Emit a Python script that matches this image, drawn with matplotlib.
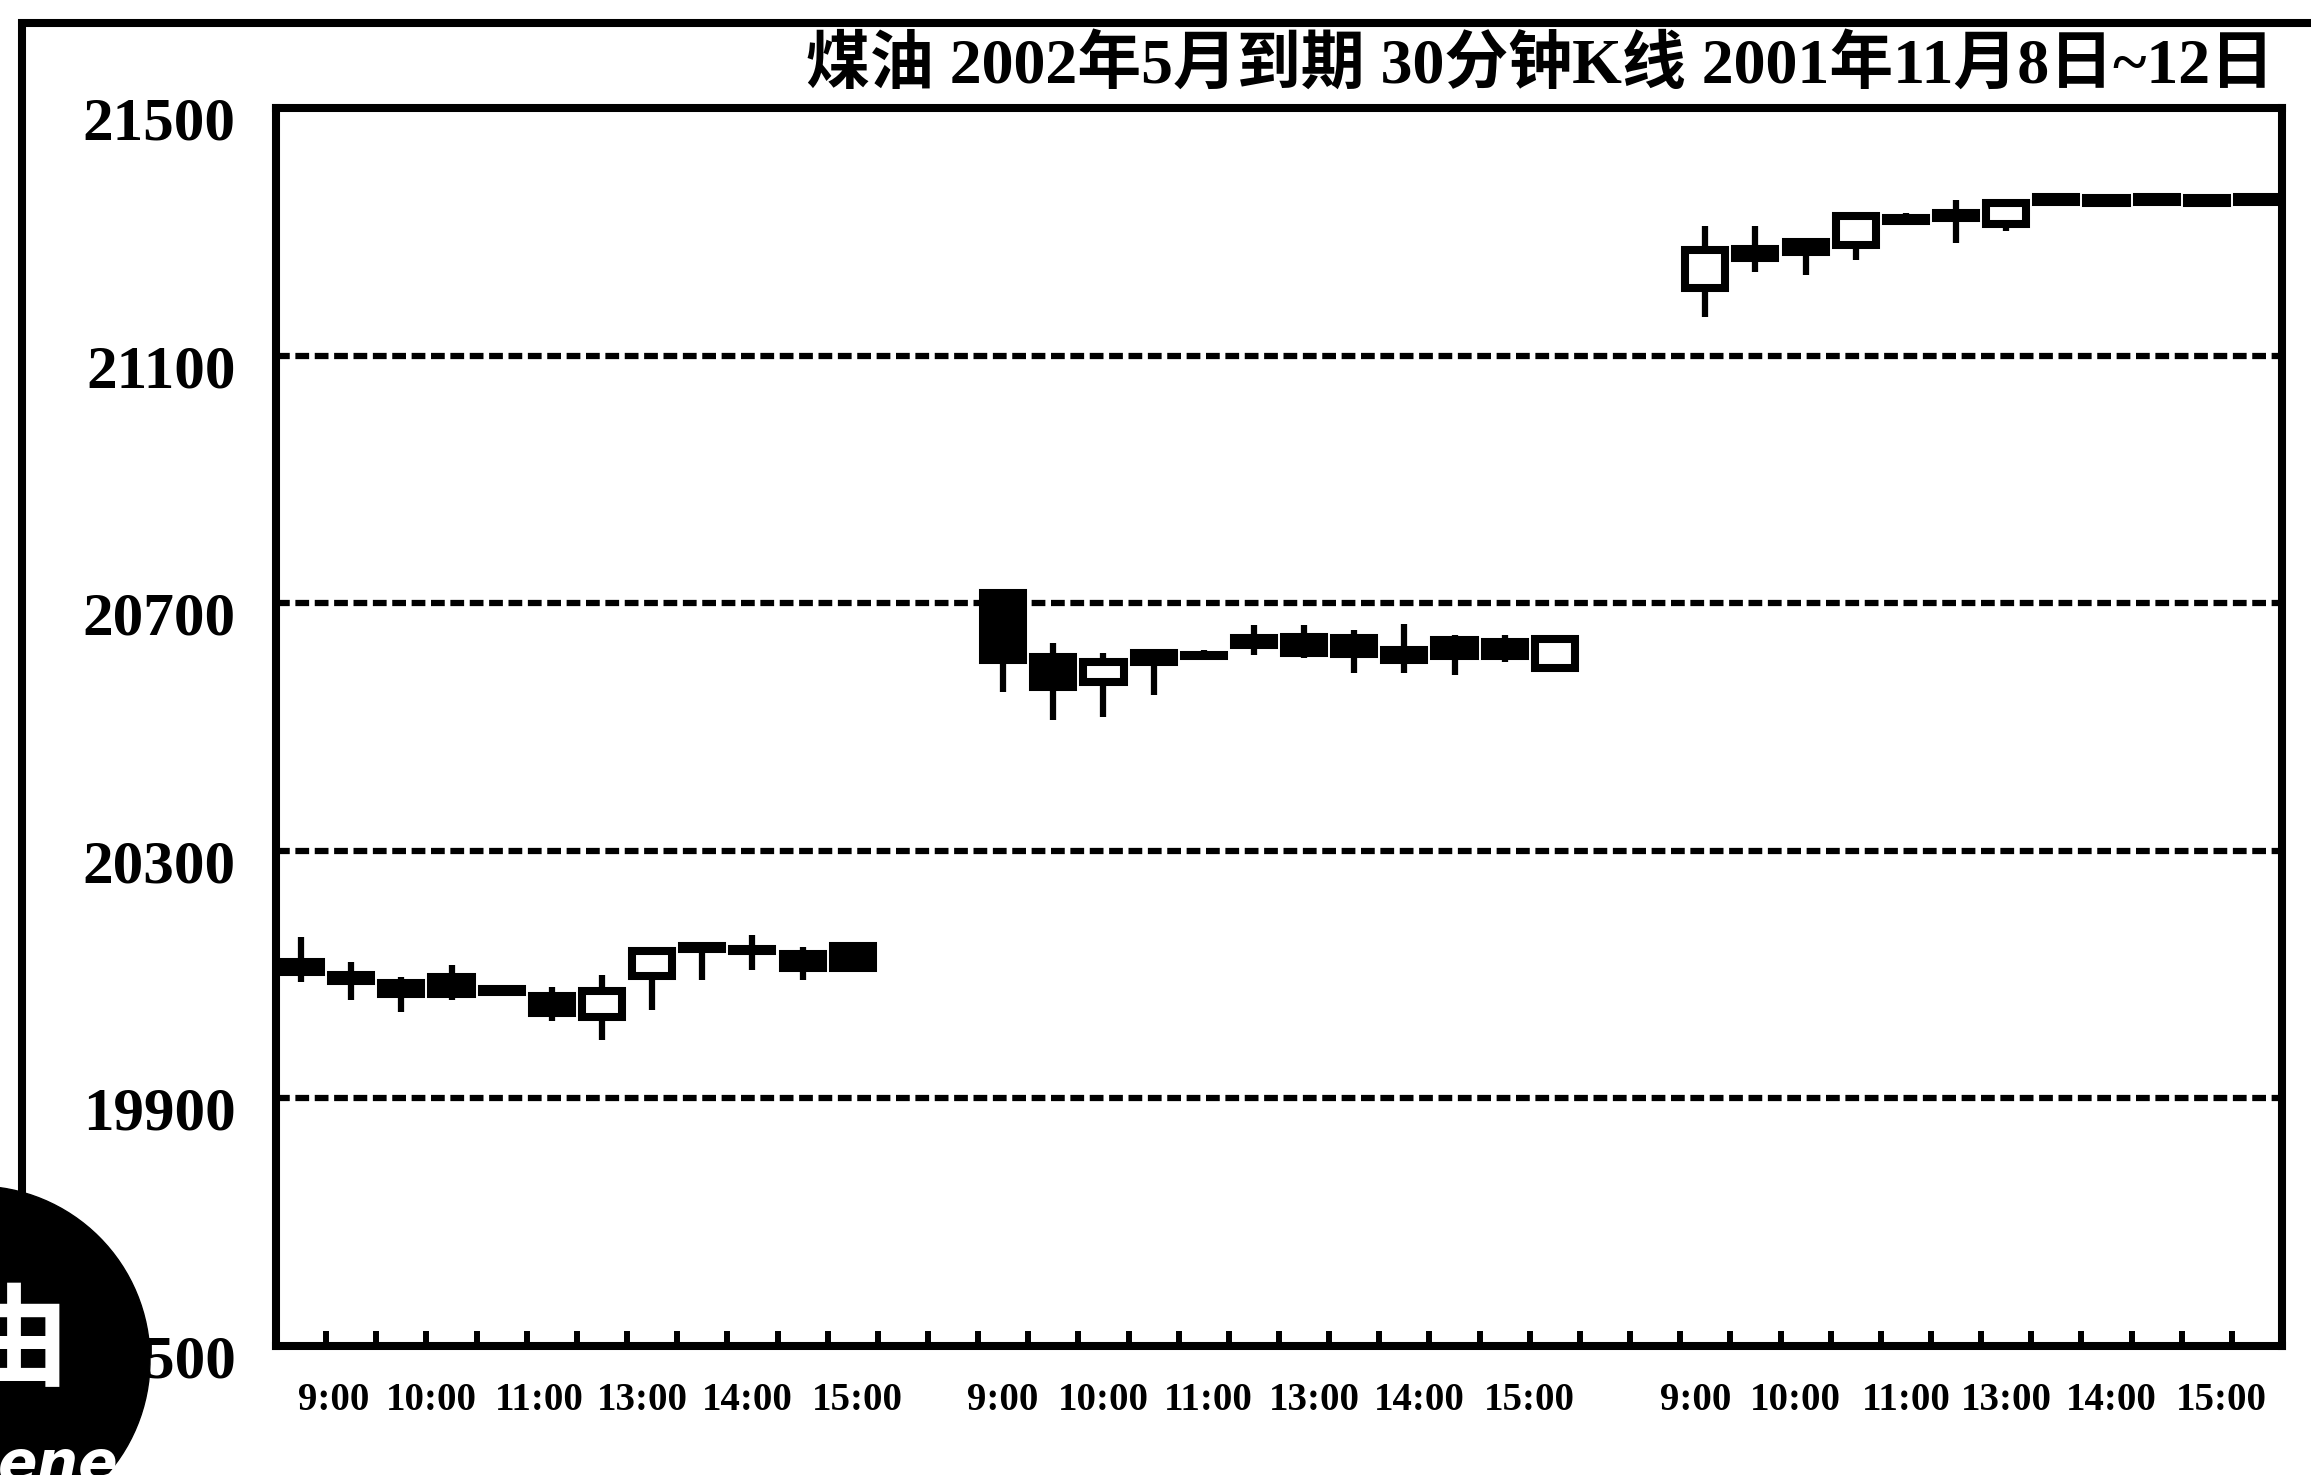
import matplotlib
matplotlib.use('Agg')

import matplotlib.pyplot as plt
from matplotlib.patches import Circle, Rectangle
from matplotlib.transforms import ScaledTranslation

# ─── Data: 30-minute kerosene bars, Nov 8 / Nov 9 / Nov 12 2001 ───────────────
TITLE = '煤油 2002年5月到期 30分钟K线 2001年11月8日~12日'

day_start = [0, 14, 28]          # first slot of each trading day
bars_per_day = 12

opens = [
    # 11/8
    20120, 20100, 20086, 20096, 20076, 20066, 20031, 20097, 20146, 20142, 20133, 20146,
    # 11/9
    20716, 20613, 20572, 20620, 20617, 20644, 20645, 20644, 20624, 20640, 20638, 20595,
    # 11/12
    21209, 21272, 21284, 21278, 21322, 21331, 21313, 21356, 21355, 21356, 21355, 21356,
]
highs = [
    20160, 20120, 20096, 20115, 20082, 20080, 20099, 20140, 20151, 20164, 20144, 20148,
    20722, 20635, 20619, 20624, 20624, 20664, 20664, 20656, 20667, 20648, 20648, 20645,
    21310, 21310, 21289, 21328, 21331, 21352, 21350, 21358, 21358, 21358, 21358, 21358,
]
lows = [
    20088, 20059, 20039, 20059, 20068, 20025, 19994, 20043, 20091, 20107, 20091, 20105,
    20556, 20511, 20516, 20551, 20608, 20616, 20611, 20587, 20587, 20584, 20605, 20593,
    21162, 21235, 21230, 21254, 21312, 21282, 21302, 21345, 21345, 21345, 21345, 21345,
]
closes = [
    20104, 20090, 20068, 20068, 20072, 20038, 20073, 20138, 20142, 20138, 20110, 20110,
    20608, 20564, 20605, 20605, 20614, 20632, 20620, 20618, 20608, 20614, 20614, 20642,
    21271, 21257, 21268, 21326, 21318, 21323, 21346, 21348, 21347, 21348, 21347, 21348,
]

y_ticks = [19500, 19900, 20300, 20700, 21100, 21500]
time_labels = ['9:00', '10:00', '11:00', '13:00', '14:00', '15:00']
# where the time labels sit along the slot axis
label_pos = [1.15, 3.1, 5.25, 7.3, 9.4, 11.6,
             14.5, 16.5, 18.6, 20.7, 22.8, 25.0,
             28.3, 30.3, 32.5, 34.5, 36.6, 38.8]

# ─── Figure ───────────────────────────────────────────────────────────────────
W, H, DPI = 2311, 1475, 100
fig = plt.figure(figsize=(W / DPI, H / DPI), dpi=DPI, facecolor='white')
ax = fig.add_axes([276 / W, 1 - 1346 / H, (2282 - 276) / W, (1346 - 108) / H])
ax.set_facecolor('white')

serif = ['Liberation Serif', 'Noto Sans CJK SC']

# ─── Candles ──────────────────────────────────────────────────────────────────
xs = [d + i + 0.5 for d in day_start for i in range(bars_per_day)]
body_lo = [min(o, c) for o, c in zip(opens, closes)]
body_h = [abs(c - o) for o, c in zip(opens, closes)]
face = ['white' if c > o else 'black' for o, c in zip(opens, closes)]

ax.vlines(xs, lows, highs, color='black', linewidth=4.5, zorder=3)
ax.bar(xs, body_h, bottom=body_lo, width=0.8, color=face,
       edgecolor='black', linewidth=5.8, zorder=4)

# ─── Axes styling ─────────────────────────────────────────────────────────────
ax.set_xlim(0, 40)
ax.set_ylim(19500, 21500)

for sp in ax.spines.values():
    sp.set_linewidth(5.8)
    sp.set_color('black')

ax.set_axisbelow(True)
ax.grid(axis='y', color='black', linewidth=4.5, linestyle=(0, (2.2, 0.9)))

ax.set_yticks(y_ticks)
ax.set_yticklabels([str(v) for v in y_ticks])
ax.tick_params(axis='y', length=0, pad=29, labelsize=44)
for lbl in ax.get_yticklabels():
    lbl.set_family(serif)
    lbl.set_fontweight('bold')
    lbl.set_transform(lbl.get_transform() + ScaledTranslation(0, -0.10, fig.dpi_scale_trans))

ax.xaxis.remove_overlapping_locs = False
ax.set_xticks(range(1, 40))
ax.set_xticklabels([])
ax.tick_params(axis='x', which='major', direction='in', length=11, width=4.3)

ax.set_xticks(label_pos, minor=True)
ax.set_xticklabels(time_labels * 3, minor=True)
ax.tick_params(axis='x', which='minor', length=0, pad=26, labelsize=28)
for lbl in ax.get_xticklabels(minor=True):
    lbl.set_family(serif)
    lbl.set_fontweight('bold')

# ─── Title and page decorations ───────────────────────────────────────────────
fig.text(2274 / W, 1 - 66 / H, TITLE, ha='right', va='center',
         fontsize=46, fontweight='bold', family=serif)

fig.add_artist(Rectangle((22 / W, -0.1), 1.2, 1.1 - 23 / H,
                         transform=fig.transFigure, fill=False,
                         edgecolor='black', linewidth=5.8, zorder=1))

fig.add_artist(Circle((-0.24, 1.15), 1.74, transform=fig.dpi_scale_trans,
                      color='black', zorder=10))
fig.text(0.14, 1.30, '由', transform=fig.dpi_scale_trans, ha='center', va='center',
         color='white', fontsize=80, fontweight='bold',
         family=['Noto Sans CJK SC', 'DejaVu Sans'], zorder=11)
fig.text(-0.02, -0.07, 'ene', transform=fig.dpi_scale_trans, ha='left', va='baseline',
         color='white', fontsize=42, fontweight='bold', fontstyle='italic',
         family='DejaVu Sans', zorder=11)

fig.savefig('out.png', dpi=DPI, facecolor='white')
